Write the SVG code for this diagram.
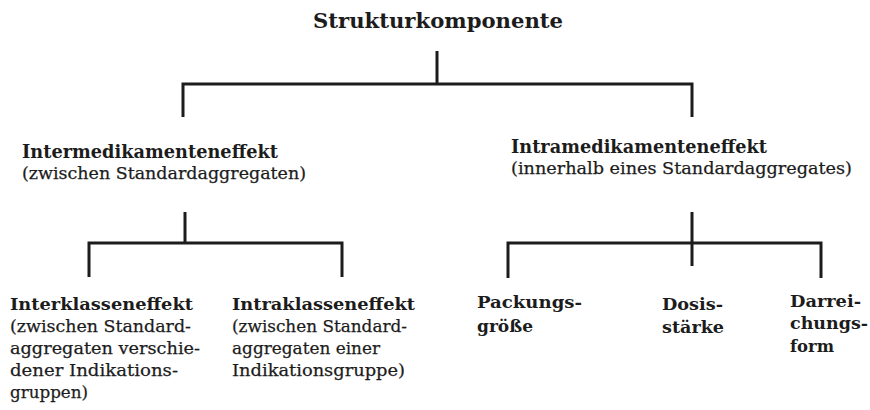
<svg xmlns="http://www.w3.org/2000/svg" width="870" height="410" viewBox="0 0 870 410">
<style>
text{font-family:"DejaVu Serif","Liberation Serif",serif;fill:#1c1c1c}
.t{font-size:21px;font-weight:bold}
.h{font-size:19px;font-weight:bold}
.s{font-size:17.5px;stroke:#1c1c1c;stroke-width:0.25}
.b{font-size:17.5px;font-weight:bold}
.r{font-size:17.5px;stroke:#1c1c1c;stroke-width:0.25}
.c{fill:none;stroke:#1c1c1c;stroke-width:3;stroke-linecap:butt;stroke-linejoin:miter}
</style>
<rect width="870" height="410" fill="#ffffff"/>
<g id="connectors">
<path class="c" d="M437 51V84M183 117V84H692V117"/>
<path class="c" d="M185 212V243M89 277V243H342V277"/>
<path class="c" d="M692 212V266M508 278V243H821V278"/>
</g>
<g id="strukturkomponente">
<text class="t" x="313" y="28" textLength="250" lengthAdjust="spacingAndGlyphs">Strukturkomponente</text>
</g>
<g id="intermedikamenteneffekt">
<text class="h" x="22" y="158" textLength="256" lengthAdjust="spacingAndGlyphs">Intermedikamenteneffekt</text>
<text class="s" x="22" y="179" textLength="284" lengthAdjust="spacingAndGlyphs">(zwischen Standardaggregaten)</text>
</g>
<g id="intramedikamenteneffekt">
<text class="h" x="511" y="153" textLength="256" lengthAdjust="spacingAndGlyphs">Intramedikamenteneffekt</text>
<text class="s" x="511" y="174" textLength="341" lengthAdjust="spacingAndGlyphs">(innerhalb eines Standardaggregates)</text>
</g>
<g id="interklasseneffekt">
<text class="b" x="10" y="310" textLength="183" lengthAdjust="spacingAndGlyphs">Interklasseneffekt</text>
<text class="r" x="10" y="332" textLength="181" lengthAdjust="spacingAndGlyphs">(zwischen Standard-</text>
<text class="r" x="10" y="354" textLength="190" lengthAdjust="spacingAndGlyphs">aggregaten verschie-</text>
<text class="r" x="10" y="376" textLength="168" lengthAdjust="spacingAndGlyphs">dener Indikations-</text>
<text class="r" x="10" y="398" textLength="78" lengthAdjust="spacingAndGlyphs">gruppen)</text>
</g>
<g id="intraklasseneffekt">
<text class="b" x="232" y="310" textLength="183" lengthAdjust="spacingAndGlyphs">Intraklasseneffekt</text>
<text class="r" x="232" y="332" textLength="175" lengthAdjust="spacingAndGlyphs">(zwischen Standard-</text>
<text class="r" x="232" y="354" textLength="148" lengthAdjust="spacingAndGlyphs">aggregaten einer</text>
<text class="r" x="232" y="376" textLength="173" lengthAdjust="spacingAndGlyphs">Indikationsgruppe)</text>
</g>
<g id="packungsgroesse">
<text class="b" x="477" y="308" textLength="105" lengthAdjust="spacingAndGlyphs">Packungs-</text>
<text class="b" x="477" y="332" textLength="56" lengthAdjust="spacingAndGlyphs">größe</text>
</g>
<g id="dosisstaerke">
<text class="b" x="662" y="310" textLength="61" lengthAdjust="spacingAndGlyphs">Dosis-</text>
<text class="b" x="662" y="333" textLength="62" lengthAdjust="spacingAndGlyphs">stärke</text>
</g>
<g id="darreichungsform">
<text class="b" x="790" y="307" textLength="71" lengthAdjust="spacingAndGlyphs">Darrei-</text>
<text class="b" x="790" y="329" textLength="78" lengthAdjust="spacingAndGlyphs">chungs-</text>
<text class="b" x="790" y="352" textLength="44" lengthAdjust="spacingAndGlyphs">form</text>
</g>
</svg>
